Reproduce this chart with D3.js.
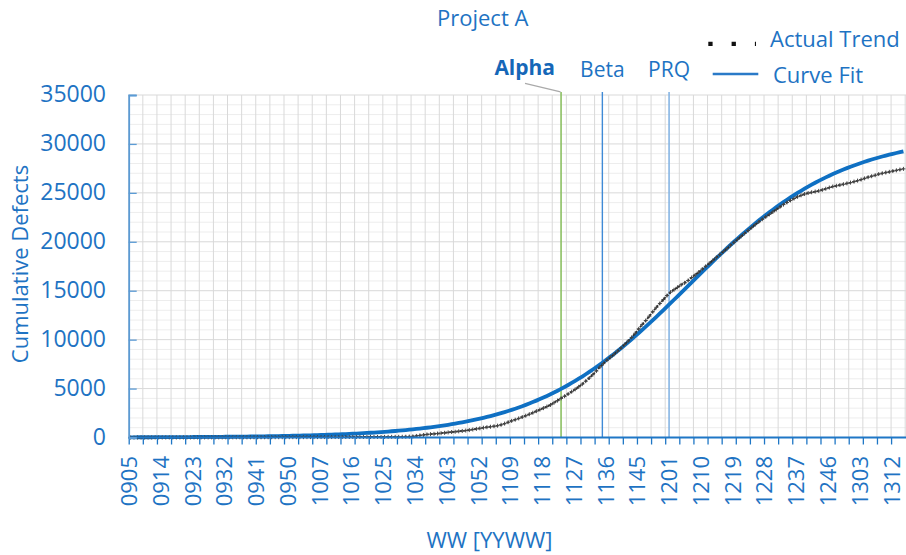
<!DOCTYPE html>
<html><head><meta charset="utf-8">
<script src="https://cdn.jsdelivr.net/npm/d3@7"></script>
<style>
html,body{margin:0;padding:0;background:#fff;}
svg{display:block;font-family:"Open Sans",sans-serif;}
</style></head><body>
<svg id="chart" width="906" height="555"></svg>
<script>
const title = "Project A";
const yTitle = "Cumulative Defects";
const xTitle = "WW [YYWW]";
const startYear = 9, startWeek = 5;
const weeksPerYear = {9:52, 10:52, 11:53, 12:52, 13:52};
const weekCount = 220;
const labelEvery = 9;
const tickEvery = 4;
const yTicks = [0, 5000, 10000, 15000, 20000, 25000, 30000, 35000];
const legendItems = ["Actual Trend", "Curve Fit"];

const actualTrend = [
0,0,1,1,2,2,3,3,4,4,5,5,6,6,7,8,8,9,10,10,
11,12,12,13,14,15,15,16,17,18,19,20,20,21,22,23,24,25,26,27,
28,29,30,31,32,33,34,35,36,37,38,39,40,41,42,43,44,45,46,47,
48,49,50,51,52,53,54,55,56,57,58,60,62,64,66,68,70,73,76,
90,110,160,210,260,310,340,370,400,440,480,520,560,590,630,670,710,760,820,880,940,
1000,1050,1100,1150,1210,1300,1420,1560,1700,1820,1950,2090,2230,2380,2530,2690,2850,3000,3160,3330,
3550,3770,4000,4220,4450,4680,4920,5180,5450,5760,6080,6420,6800,7200,7550,7900,8200,8500,8820,9150,
9500,9850,10230,10650,11100,11550,11950,12400,12850,13300,13700,14100,14500,14850,15100,15350,15600,15800,16050,16350,
16620,16900,17200,17500,17800,18100,18400,18700,19000,19300,19650,19950,20250,20550,20850,21150,21450,21750,22030,22300,
22550,22800,23050,23300,23550,23800,24020,24230,24420,24600,24750,24880,24980,25060,25130,25200,25300,25420,25540,25650,
25720,25800,25880,25970,26050,26150,26250,26360,26480,26600,26700,26800,26920,27000,27080,27150,27230,27300,27380,27450
];

const curveFit = [
22,23,24,25,26,27,28,30,31,33,
34,36,38,39,41,43,45,47,49,52,
54,57,59,62,65,68,71,75,78,82,
86,90,94,98,103,108,113,118,124,130,
136,142,149,156,163,170,178,187,195,205,
214,224,235,246,257,269,282,295,309,323,
338,354,370,387,405,424,444,464,486,508,
532,556,582,609,637,666,697,729,763,798,
834,872,912,954,997,1043,1090,1139,1191,1245,
1301,1360,1421,1484,1551,1620,1692,1767,1845,1927,
2012,2100,2192,2287,2387,2490,2598,2710,2825,2945,
3070,3200,3334,3474,3618,3768,3923,4083,4249,4420,
4597,4780,4970,5164,5365,5573,5786,6005,6231,6464,
6701,6946,7198,7455,7719,7988,8264,8545,8833,9126,
9426,9730,10040,10355,10675,10998,11328,11660,11996,12336,
12680,13025,13374,13724,14077,14432,14787,15144,15500,15856,
16211,16568,16922,17275,17626,17974,18320,18664,19003,19340,
19673,20001,20325,20645,20960,21269,21574,21873,22167,22454,
22736,23012,23282,23546,23802,24053,24298,24537,24768,24994,
25214,25429,25635,25836,26031,26220,26403,26580,26752,26917,
27079,27234,27383,27526,27666,27800,27930,28054,28174,28293,
28404,28511,28614,28712,28808,28899,28988,29073,29155,29234
];

// milestone positions, in week-slot units from the first week
const milestoneNames = ["Alpha", "Beta", "PRQ"];
const milestonePos = [122.5, 134.2, 153.1];

// ---------- build categories ----------
const weeks = [];
{
  let yr = startYear, wk = startWeek;
  for (let i = 0; i < weekCount; i++) {
    weeks.push(String(yr).padStart(2, "0") + String(wk).padStart(2, "0"));
    wk++;
    if (wk > weeksPerYear[yr]) { wk = 1; yr++; }
  }
}

const TXT = "#1e73c3";
const svg = d3.select("#chart");
const L = 128.7, R = 905.2, T = 95, B = 437.5;
const x = d3.scaleLinear().domain([0, weeks.length]).range([L, R]);
const y = d3.scaleLinear().domain([0, 35000]).range([B, T]);

// ---------- grid ----------
const grid = svg.append("g");
grid.selectAll("line.minor").data(d3.range(1000, 35001, 1000).filter(v => v % 5000 !== 0))
  .join("line").attr("x1", L).attr("x2", 906).attr("y1", d => y(d)).attr("y2", d => y(d))
  .attr("stroke", "#ededed").attr("stroke-width", 1);
grid.selectAll("line.vert").data(d3.range(0, weeks.length + 1, tickEvery))
  .join("line").attr("x1", d => x(d)).attr("x2", d => x(d)).attr("y1", T).attr("y2", B)
  .attr("stroke", "#d9d9d9").attr("stroke-width", 1);
grid.selectAll("line.major").data(yTicks.filter(v => v > 0))
  .join("line").attr("x1", L).attr("x2", 906).attr("y1", d => y(d)).attr("y2", d => y(d))
  .attr("stroke", "#d9d9d9").attr("stroke-width", 1);

// ---------- milestone lines ----------
const msColors = ["#8cc063", "#3f8ad6", "#86b5e4"];
const msWidths = [1.6, 1.4, 1.6];
milestonePos.forEach((p, i) => {
  svg.append("line").attr("x1", x(p)).attr("x2", x(p)).attr("y1", 92).attr("y2", B)
    .attr("stroke", msColors[i]).attr("stroke-width", msWidths[i]);
});
// leader for Alpha
svg.append("line").attr("x1", 525).attr("y1", 83.3).attr("x2", x(milestonePos[0]) - 0.5).attr("y2", 91.8)
  .attr("stroke", "#aaaaaa").attr("stroke-width", 1.2);

// ---------- series ----------
const line = d3.line().x((d, i) => x(i + 0.5)).y(d => y(d));
svg.append("path").datum(curveFit).attr("d", line)
  .attr("fill", "none").attr("stroke", "#0f70c3").attr("stroke-width", 3.8).attr("stroke-linejoin", "round");
svg.append("path").datum(actualTrend).attr("d", line)
  .attr("fill", "none").attr("stroke", "#2e2e2e").attr("stroke-width", 1.8)
  .attr("stroke-dasharray", "2.5,1.2");
const mk = svg.append("g").attr("stroke", "#444").attr("stroke-width", 1);
actualTrend.forEach((v, i) => {
  const cx = x(i + 0.5), cy = y(v);
  mk.append("line").attr("x1", cx - 2).attr("x2", cx + 2).attr("y1", cy).attr("y2", cy);
  mk.append("line").attr("x1", cx).attr("x2", cx).attr("y1", cy - 2).attr("y2", cy + 2);
});

// ---------- x axis ----------
svg.append("line").attr("x1", L).attr("x2", 906).attr("y1", B).attr("y2", B)
  .attr("stroke", "#1f77c6").attr("stroke-width", 2);
const xTickAxis = svg.append("g").attr("transform", `translate(0,${B})`)
  .call(d3.axisBottom(x).tickValues(d3.range(0, weeks.length, tickEvery)).tickSize(7).tickFormat(""));
xTickAxis.select(".domain").remove();
xTickAxis.selectAll("line").attr("stroke", "#1f77c6").attr("stroke-width", 1.3);

const xLab = svg.append("g").attr("transform", `translate(0,${B})`)
  .call(d3.axisBottom(x).tickValues(d3.range(0, weeks.length, labelEvery).map(k => k + 0.5))
    .tickSize(0).tickFormat(v => weeks[Math.floor(v)]));
xLab.select(".domain").remove();
xLab.selectAll("text")
  .attr("transform", "rotate(-90)").attr("x", -18.5).attr("y", 0).attr("dy", "0.28em")
  .style("text-anchor", "end").attr("fill", TXT)
  .style("font-size", "22px").style("font-family", '"Open Sans", sans-serif');

// ---------- y axis ----------
const yAx = svg.append("g").attr("transform", `translate(${L},0)`)
  .call(d3.axisLeft(y).tickValues(yTicks).tickSize(-8).tickPadding(22.7).tickFormat(d3.format("d")));
yAx.select(".domain").attr("stroke", "#5b9bd5").attr("stroke-width", 1.8);
yAx.selectAll("line").attr("stroke", "#5b9bd5").attr("stroke-width", 1.3);
yAx.selectAll("text").attr("fill", TXT).attr("dy", "0.3em")
  .style("font-size", "23px").style("font-family", '"Open Sans", sans-serif');

// ---------- titles ----------
svg.append("text").attr("x", 437).attr("y", 26).text(title)
  .attr("fill", TXT).style("font-size", "22px");
svg.append("text").attr("transform", "translate(28,264) rotate(-90)").attr("text-anchor", "middle")
  .text(yTitle).attr("fill", TXT).style("font-size", "22px");
svg.append("text").attr("x", 489.5).attr("y", 548).attr("text-anchor", "middle")
  .text(xTitle).attr("fill", TXT).style("font-size", "22px");

// ---------- milestone labels ----------
svg.append("text").attr("x", x(milestonePos[0]) - 6).attr("y", 75).attr("text-anchor", "end")
  .text(milestoneNames[0]).attr("fill", "#1567b8").style("font-size", "21px").style("font-weight", "bold");
svg.append("text").attr("x", x(milestonePos[1])).attr("y", 77.3).attr("text-anchor", "middle")
  .text(milestoneNames[1]).attr("fill", TXT).style("font-size", "21px");
svg.append("text").attr("x", x(milestonePos[2])).attr("y", 77.3).attr("text-anchor", "middle")
  .text(milestoneNames[2]).attr("fill", TXT).style("font-size", "21px");

// ---------- legend ----------
svg.append("line").attr("x1", 708.3).attr("x2", 756).attr("y1", 43.8).attr("y2", 43.8)
  .attr("stroke", "#111").attr("stroke-width", 4.3).attr("stroke-dasharray", "4.3,19");
svg.append("text").attr("x", 770).attr("y", 46.7).text(legendItems[0])
  .attr("fill", TXT).style("font-size", "22px");
svg.append("line").attr("x1", 712.7).attr("x2", 758.3).attr("y1", 74).attr("y2", 74)
  .attr("stroke", "#2a7ac8").attr("stroke-width", 2.6);
svg.append("text").attr("x", 773).attr("y", 82.7).text(legendItems[1])
  .attr("fill", TXT).style("font-size", "22px");
</script>
</body></html>
